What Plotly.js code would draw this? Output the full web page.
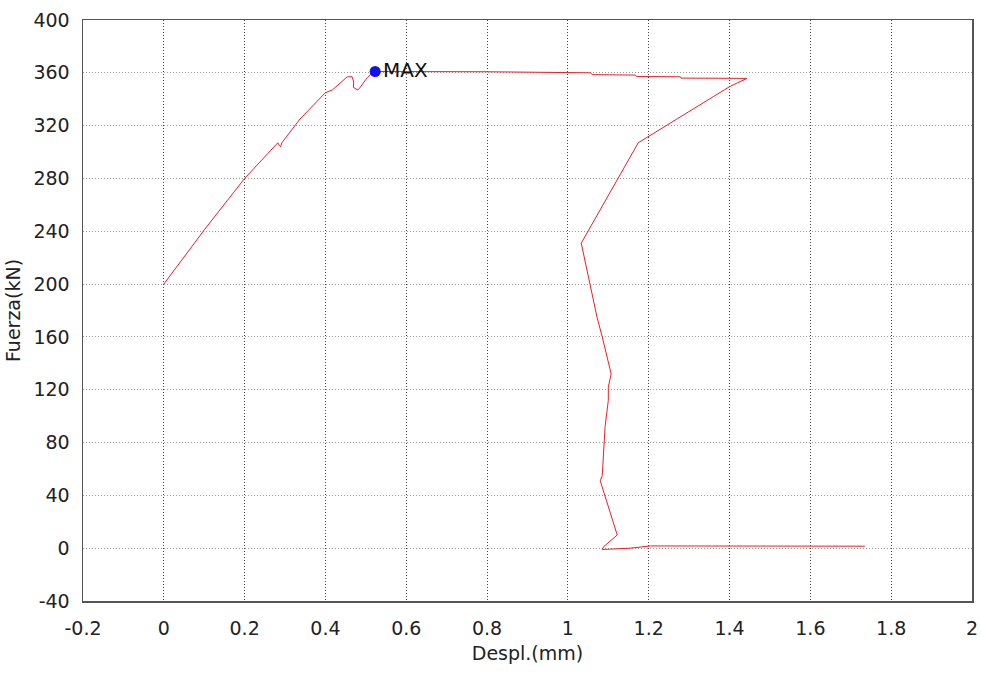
<!DOCTYPE html>
<html>
<head>
<meta charset="utf-8">
<script src="https://cdn.plot.ly/plotly-3.0.1.min.js"></script>
<style>html,body{margin:0;padding:0;background:#fff;}#chart{width:981px;height:675px;}</style>
</head>
<body>
<div id="chart"></div>
<script>
// Displacement (mm) and force (kN)
const despl = [0, 0.1, 0.2, 0.282, 0.286, 0.289, 0.292, 0.337, 0.40, 0.417, 0.454, 0.466, 0.47, 0.469, 0.48, 0.486, 0.50, 0.516, 0.523,
  0.8, 1.056, 1.06, 1.167, 1.17, 1.278, 1.28, 1.443, 1.40, 1.36, 1.195, 1.174, 1.033, 1.055, 1.072, 1.085, 1.10, 1.107, 1.10, 1.10,
  1.092, 1.085, 1.08, 1.092, 1.122, 1.088, 1.085, 1.154, 1.204, 1.5, 1.735];
const fuerza = [200, 241, 280, 307, 305, 304, 307, 325, 345, 347, 357, 357, 353, 349, 347, 349, 355, 360, 361,
  360.8, 360, 358.6, 358.3, 357.2, 357, 356, 355.8, 349.5, 342, 311, 307, 231, 198, 175, 160, 140, 132, 122, 112,
  92, 55, 51, 39, 10, 1, -1, 0, 1.7, 1.6, 1.5];
const maxPoint = {x: [0.523], y: [361], label: ["MAX"]};
const xTicks = [-0.2, 0, 0.2, 0.4, 0.6, 0.8, 1, 1.2, 1.4, 1.6, 1.8, 2];
const yTicks = [-40, 0, 40, 80, 120, 160, 200, 240, 280, 320, 360, 400];

const FONT = 'DejaVu Sans, Arial, sans-serif';
const traces = [
  {x: despl, y: fuerza, mode: 'lines', line: {color: '#e8202a', width: 1}, hoverinfo: 'skip'},
  {x: maxPoint.x, y: maxPoint.y, mode: 'markers+text', text: maxPoint.label, textposition: 'middle right',
   textfont: {family: FONT, size: 20, color: '#111'},
   marker: {color: '#1010f0', size: 11}}
];
const layout = {
  width: 981, height: 675,
  margin: {l: 83, r: 9, t: 20, b: 74},
  paper_bgcolor: '#fff', plot_bgcolor: '#fff',
  showlegend: false,
  font: {family: FONT, size: 19, color: '#222'},
  xaxis: {
    range: [-0.2, 2], tickvals: xTicks, ticktext: xTicks.map(String),
    showgrid: true, gridcolor: '#444', griddash: '1px,2px', gridwidth: 1,
    zeroline: false, showline: true, linecolor: '#555', linewidth: 1.5, mirror: true,
    ticks: '', ticklabelstandoff: 10,
    title: {text: 'Despl.(mm)', font: {size: 19, color: '#222'}, standoff: 8}
  },
  yaxis: {
    range: [-40, 400], tickvals: yTicks, ticktext: yTicks.map(String),
    showgrid: true, gridcolor: '#999', griddash: '1px,2px', gridwidth: 1,
    zeroline: false, showline: true, linecolor: '#555', linewidth: 1.5, mirror: true,
    ticks: '', ticklabelstandoff: 8,
    title: {text: 'Fuerza(kN)', font: {size: 19, color: '#222'}, standoff: 8}
  }
};
Plotly.newPlot('chart', traces, layout, {displayModeBar: false, staticPlot: true});
</script>
</body>
</html>
